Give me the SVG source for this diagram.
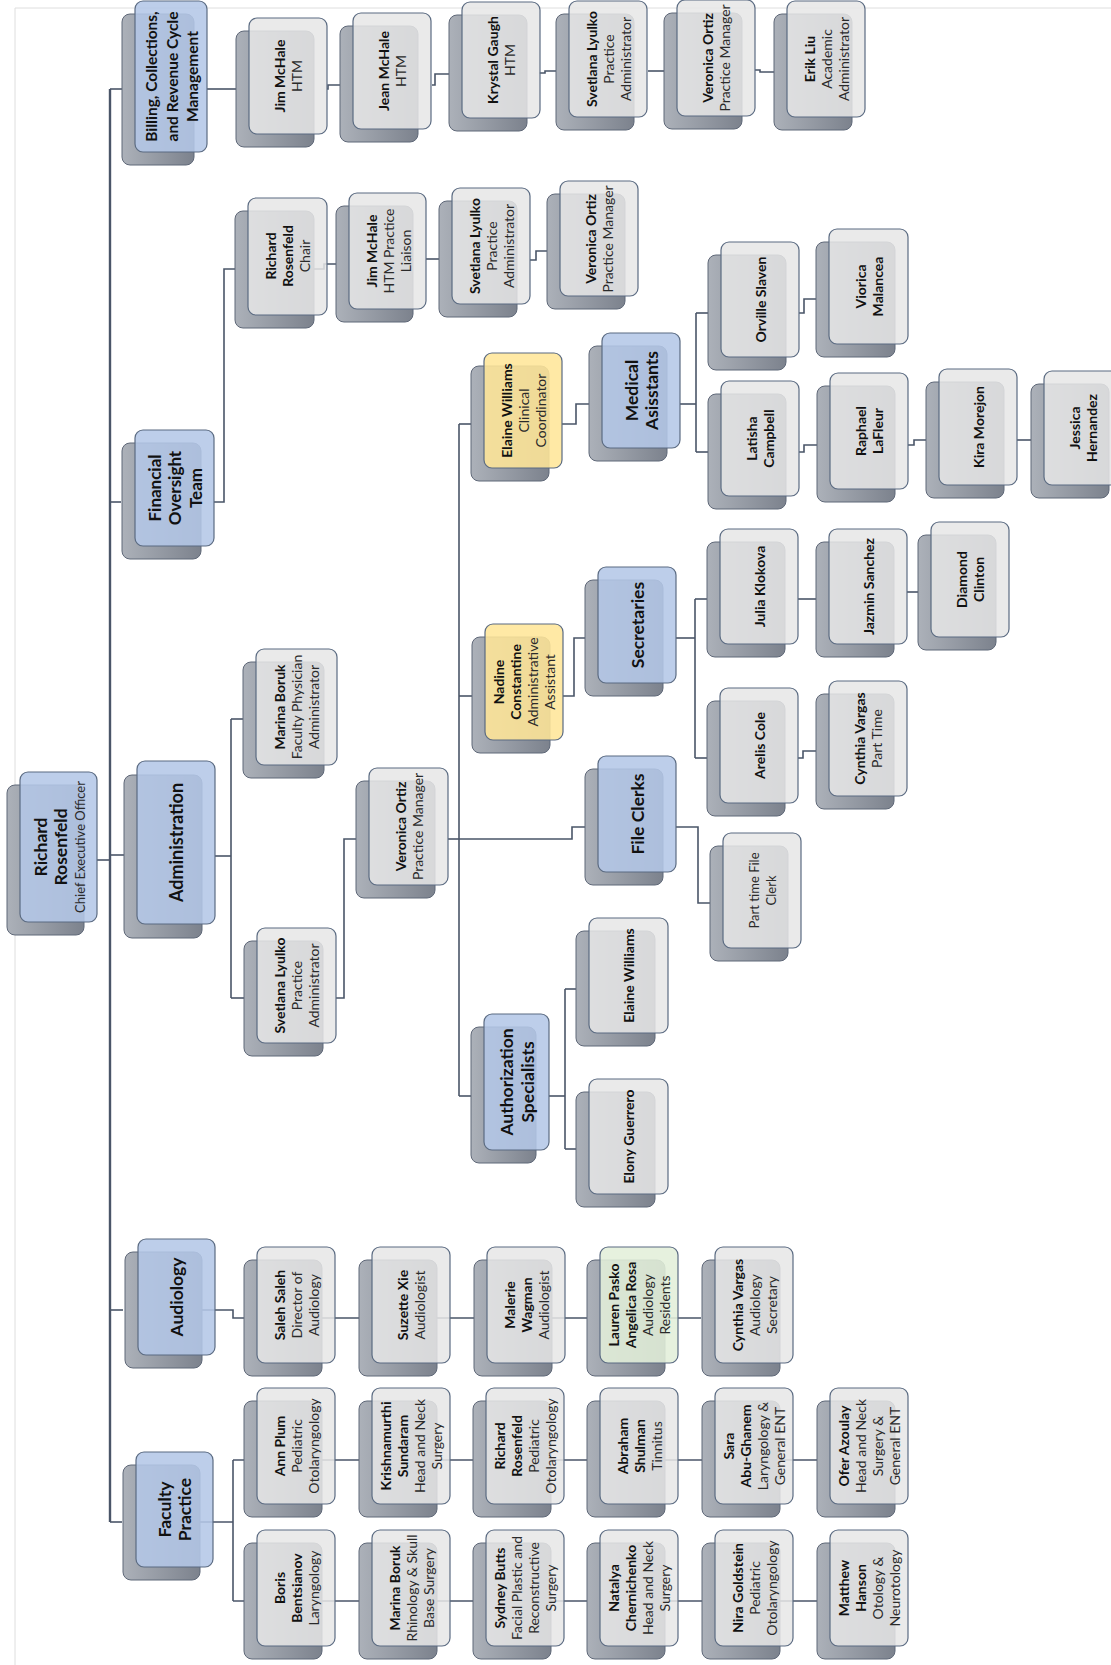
<svg xmlns="http://www.w3.org/2000/svg" width="1111" height="1665" viewBox="0 0 1111 1665">
<defs>
<linearGradient id="gs" x1="0" y1="0" x2="1" y2="0"><stop offset="0" stop-color="#acb1b9"/><stop offset="1" stop-color="#7c828d"/></linearGradient>
<style>
.sh{fill:url(#gs);stroke:#5f6878;stroke-width:1}
.fr{fill:#e6e6e6;fill-opacity:.86;stroke:#5b6b82;stroke-width:1.2}
.fb{fill:#b4c7e7;fill-opacity:.88;stroke:#5b6b82;stroke-width:1.2}
.fy{fill:#ffe699;fill-opacity:.88;stroke:#5b6b82;stroke-width:1.2}
.fg{fill:#e2efd9;fill-opacity:.88;stroke:#5b6b82;stroke-width:1.2}
text{font-family:Lato,"Open Sans","Liberation Sans",sans-serif;font-size:14px;fill:#2a2a2a;text-anchor:middle;dominant-baseline:central}
.b{font-weight:700;fill:#111}
.h{font-size:17.5px;font-weight:700;fill:#111}
.con path{fill:none;stroke:#4a5568;stroke-width:1.6}
.frame{fill:none;stroke:#dedede;stroke-width:1}
</style>
</defs>
<rect width="1111" height="1665" fill="#ffffff"/>
<path class="frame" d="M15,1665 V8 H1111"/>
<g class="con" id="connectors">
<path d="M110,89 V1522" style="stroke-width:2.4"/>
<path d="M110,89 H123"/>
<path d="M110,502 H121"/>
<path d="M97,860 H110"/>
<path d="M110,855 H124"/>
<path d="M110,1310 H123"/>
<path d="M110,1522 H122"/>
<path d="M207,89 H236"/>
<path d="M327,89 H328 V85 H340"/>
<path d="M432,85 H435 V74 H449"/>
<path d="M539,73 H545 V71 H556"/>
<path d="M648,71 H664"/>
<path d="M755,70 H760 V72 H774"/>
<path d="M214,502 H224 V269 H235"/>
<path d="M314,269 H324 V264 H336"/>
<path d="M426,259 H439"/>
<path d="M530,260 H536 V251 H547"/>
<path d="M215,856 H231"/>
<path d="M231,719 V998"/>
<path d="M231,719 H243"/>
<path d="M231,998 H244"/>
<path d="M336,998 H344 V839 H356"/>
<path d="M448,839 H459"/>
<path d="M459,424 V1096"/>
<path d="M459,424 H471"/>
<path d="M459,696 H472"/>
<path d="M459,839 H572 V827 H585"/>
<path d="M459,1096 H471"/>
<path d="M562,424 H576 V404 H589"/>
<path d="M680,404 H696"/>
<path d="M696,313 V452"/>
<path d="M696,313 H708"/>
<path d="M696,452 H708"/>
<path d="M799,313 H804 V299 H816"/>
<path d="M799,452 H804 V445 H817"/>
<path d="M908,445 H914 V440 H926"/>
<path d="M1017,440 H1031"/>
<path d="M563,696 H574 V638 H585"/>
<path d="M676,638 H695"/>
<path d="M695,599 V758"/>
<path d="M695,599 H707"/>
<path d="M695,758 H707"/>
<path d="M798,599 H816"/>
<path d="M907,592 H918"/>
<path d="M798,758 H803 V751 H816"/>
<path d="M676,827 H698 V903 H710"/>
<path d="M549,1096 H565"/>
<path d="M565,989 V1149"/>
<path d="M565,989 H576"/>
<path d="M565,1149 H576"/>
<path d="M200,1310 H233 V1318 H701"/>
<path d="M200,1522 H233"/>
<path d="M233,1460 V1601"/>
<path d="M233,1460 H817"/>
<path d="M233,1601 H817"/>
</g>

<g id="root"><rect class="sh" x="7" y="785" width="77" height="150" rx="8"/><rect class="fb" x="20" y="772" width="77" height="150" rx="8"/>
<text class="h" transform="translate(40,847) rotate(-90)">Richard</text>
<text class="h" transform="translate(60,847) rotate(-90)">Rosenfeld</text>
<text transform="translate(80,847) rotate(-90)" style="font-size:13px">Chief Executive Officer</text></g>

<g id="billing"><rect class="sh" x="122" y="14" width="72" height="151" rx="8"/><rect class="fb" x="135" y="1" width="72" height="151" rx="8"/>
<text class="h" style="font-size:15.5px" transform="translate(151,76.5) rotate(-90)">Billing, Collections,</text>
<text class="h" style="font-size:15.5px" transform="translate(171.5,76.5) rotate(-90)">and Revenue Cycle</text>
<text class="h" style="font-size:15.5px" transform="translate(192,76.5) rotate(-90)">Management</text></g>

<g id="financial"><rect class="sh" x="122" y="443" width="79" height="116" rx="8"/><rect class="fb" x="135" y="430" width="79" height="116" rx="8"/>
<text class="h" style="font-size:17px" transform="translate(154,488) rotate(-90)">Financial</text>
<text class="h" style="font-size:17px" transform="translate(174.5,488) rotate(-90)">Oversight</text>
<text class="h" style="font-size:17px" transform="translate(195,488) rotate(-90)">Team</text></g>

<g id="administration"><rect class="sh" x="124" y="775" width="78" height="163" rx="8"/><rect class="fb" x="137" y="761" width="78" height="163" rx="8"/>
<text class="h" style="font-size:18px" transform="translate(176,842.5) rotate(-90)">Administration</text></g>

<g id="audiology"><rect class="sh" x="125" y="1252" width="77" height="116" rx="8"/><rect class="fb" x="138" y="1239" width="77" height="116" rx="8"/>
<text class="h" transform="translate(176.5,1297) rotate(-90)">Audiology</text></g>

<g id="faculty"><rect class="sh" x="123" y="1465" width="77" height="115" rx="8"/><rect class="fb" x="136" y="1452" width="77" height="115" rx="8"/>
<text class="h" transform="translate(164.5,1509.5) rotate(-90)">Faculty</text>
<text class="h" transform="translate(184.5,1509.5) rotate(-90)">Practice</text></g>

<!-- Billing row -->
<g id="b-jim"><rect class="sh" x="236" y="31" width="78" height="116" rx="8"/><rect class="fr" x="249" y="18" width="78" height="116" rx="8"/>
<text class="b" transform="translate(279.5,76) rotate(-90)">Jim McHale</text>
<text transform="translate(296.5,76) rotate(-90)">HTM</text></g>
<g id="b-jean"><rect class="sh" x="340" y="26" width="78" height="116" rx="8"/><rect class="fr" x="353" y="13" width="78" height="116" rx="8"/>
<text class="b" transform="translate(383.5,71) rotate(-90)">Jean McHale</text>
<text transform="translate(400.5,71) rotate(-90)">HTM</text></g>
<g id="b-krystal"><rect class="sh" x="449" y="15" width="78" height="116" rx="8"/><rect class="fr" x="462" y="2" width="78" height="116" rx="8"/>
<text class="b" transform="translate(492.5,60) rotate(-90)">Krystal Gaugh</text>
<text transform="translate(509.5,60) rotate(-90)">HTM</text></g>
<g id="b-svetlana"><rect class="sh" x="556" y="14" width="78" height="116" rx="8"/><rect class="fr" x="569" y="1" width="78" height="116" rx="8"/>
<text class="b" transform="translate(591,59) rotate(-90)">Svetlana Lyulko</text>
<text transform="translate(608,59) rotate(-90)">Practice</text>
<text transform="translate(625,59) rotate(-90)">Administrator</text></g>
<g id="b-veronica"><rect class="sh" x="664" y="13" width="78" height="116" rx="8"/><rect class="fr" x="677" y="0" width="78" height="116" rx="8"/>
<text class="b" transform="translate(707.5,58) rotate(-90)">Veronica Ortiz</text>
<text transform="translate(724.5,58) rotate(-90)">Practice Manager</text></g>
<g id="b-erik"><rect class="sh" x="774" y="14" width="78" height="116" rx="8"/><rect class="fr" x="787" y="1" width="78" height="116" rx="8"/>
<text class="b" transform="translate(809,59) rotate(-90)">Erik Liu</text>
<text transform="translate(826,59) rotate(-90)">Academic</text>
<text transform="translate(843,59) rotate(-90)">Administrator</text></g>

<!-- Financial oversight row -->
<g id="f-richard"><rect class="sh" x="235" y="211" width="79" height="117" rx="8"/><rect class="fr" x="248" y="198" width="79" height="117" rx="8"/>
<text class="b" transform="translate(270,256) rotate(-90)">Richard</text>
<text class="b" transform="translate(287,256) rotate(-90)">Rosenfeld</text>
<text transform="translate(304,256) rotate(-90)">Chair</text></g>
<g id="f-jim"><rect class="sh" x="336" y="206" width="77" height="116" rx="8"/><rect class="fr" x="349" y="193" width="77" height="116" rx="8"/>
<text class="b" transform="translate(371,251) rotate(-90)">Jim McHale</text>
<text transform="translate(388,251) rotate(-90)">HTM Practice</text>
<text transform="translate(405,251) rotate(-90)">Liaison</text></g>
<g id="f-svetlana"><rect class="sh" x="439" y="201" width="78" height="116" rx="8"/><rect class="fr" x="452" y="188" width="78" height="116" rx="8"/>
<text class="b" transform="translate(474,246) rotate(-90)">Svetlana Lyulko</text>
<text transform="translate(491,246) rotate(-90)">Practice</text>
<text transform="translate(508,246) rotate(-90)">Administrator</text></g>
<g id="f-veronica"><rect class="sh" x="547" y="194" width="78" height="115" rx="8"/><rect class="fr" x="560" y="181" width="78" height="115" rx="8"/>
<text class="b" transform="translate(590.5,239) rotate(-90)">Veronica Ortiz</text>
<text transform="translate(607.5,239) rotate(-90)">Practice Manager</text></g>

<!-- Administration branch -->
<g id="a-marina"><rect class="sh" x="243" y="662" width="81" height="116" rx="8"/><rect class="fr" x="256" y="649" width="81" height="116" rx="8"/>
<text class="b" transform="translate(279.5,707) rotate(-90)">Marina Boruk</text>
<text transform="translate(296.5,707) rotate(-90)">Faculty Physician</text>
<text transform="translate(313.5,707) rotate(-90)">Administrator</text></g>
<g id="a-svetlana"><rect class="sh" x="244" y="941" width="79" height="115" rx="8"/><rect class="fr" x="257" y="928" width="79" height="115" rx="8"/>
<text class="b" transform="translate(279.5,985.5) rotate(-90)">Svetlana Lyulko</text>
<text transform="translate(296.5,985.5) rotate(-90)">Practice</text>
<text transform="translate(313.5,985.5) rotate(-90)">Administrator</text></g>
<g id="a-veronica"><rect class="sh" x="356" y="781" width="79" height="117" rx="8"/><rect class="fr" x="369" y="768" width="79" height="117" rx="8"/>
<text class="b" transform="translate(400,826.5) rotate(-90)">Veronica Ortiz</text>
<text transform="translate(417,826.5) rotate(-90)">Practice Manager</text></g>
<g id="a-elaine-coord"><rect class="sh" x="471" y="366" width="78" height="115" rx="8"/><rect class="fy" x="484" y="353" width="78" height="115" rx="8"/>
<text class="b" transform="translate(506,410.5) rotate(-90)">Elaine Williams</text>
<text transform="translate(523,410.5) rotate(-90)">Clinical</text>
<text transform="translate(540,410.5) rotate(-90)">Coordinator</text></g>
<g id="a-medical"><rect class="sh" x="589" y="346" width="78" height="115" rx="8"/><rect class="fb" x="602" y="333" width="78" height="115" rx="8"/>
<text class="h" transform="translate(631,390.5) rotate(-90)">Medical</text>
<text class="h" transform="translate(651,390.5) rotate(-90)">Asisstants</text></g>
<g id="a-orville"><rect class="sh" x="708" y="255" width="78" height="115" rx="8"/><rect class="fr" x="721" y="242" width="78" height="115" rx="8"/>
<text class="b" transform="translate(760,299.5) rotate(-90)">Orville Slaven</text></g>
<g id="a-viorica"><rect class="sh" x="816" y="242" width="79" height="115" rx="8"/><rect class="fr" x="829" y="229" width="79" height="115" rx="8"/>
<text class="b" transform="translate(860,286.5) rotate(-90)">Viorica</text>
<text class="b" transform="translate(877,286.5) rotate(-90)">Malancea</text></g>
<g id="a-latisha"><rect class="sh" x="708" y="394" width="78" height="115" rx="8"/><rect class="fr" x="721" y="381" width="78" height="115" rx="8"/>
<text class="b" transform="translate(751.5,438.5) rotate(-90)">Latisha</text>
<text class="b" transform="translate(768.5,438.5) rotate(-90)">Campbell</text></g>
<g id="a-raphael"><rect class="sh" x="817" y="386" width="78" height="116" rx="8"/><rect class="fr" x="830" y="373" width="78" height="116" rx="8"/>
<text class="b" transform="translate(860.5,431) rotate(-90)">Raphael</text>
<text class="b" transform="translate(877.5,431) rotate(-90)">LaFleur</text></g>
<g id="a-kira"><rect class="sh" x="926" y="382" width="78" height="116" rx="8"/><rect class="fr" x="939" y="369" width="78" height="116" rx="8"/>
<text class="b" transform="translate(978,427) rotate(-90)">Kira Morejon</text></g>
<g id="a-jessica"><rect class="sh" x="1031" y="384" width="78" height="114" rx="8"/><rect class="fr" x="1044" y="371" width="78" height="114" rx="8"/>
<text class="b" transform="translate(1074.5,428) rotate(-90)">Jessica</text>
<text class="b" transform="translate(1091.5,428) rotate(-90)">Hernandez</text></g>
<g id="a-nadine"><rect class="sh" x="472" y="637" width="78" height="116" rx="8"/><rect class="fy" x="485" y="624" width="78" height="116" rx="8"/>
<text class="b" transform="translate(498.5,682) rotate(-90)">Nadine</text>
<text class="b" transform="translate(515.5,682) rotate(-90)">Constantine</text>
<text transform="translate(532.5,682) rotate(-90)">Administrative</text>
<text transform="translate(549.5,682) rotate(-90)">Assistant</text></g>
<g id="a-secretaries"><rect class="sh" x="585" y="580" width="78" height="116" rx="8"/><rect class="fb" x="598" y="567" width="78" height="116" rx="8"/>
<text class="h" transform="translate(637,625) rotate(-90)">Secretaries</text></g>
<g id="a-julia"><rect class="sh" x="707" y="542" width="78" height="115" rx="8"/><rect class="fr" x="720" y="529" width="78" height="115" rx="8"/>
<text class="b" transform="translate(759,586.5) rotate(-90)">Julia Klokova</text></g>
<g id="a-jazmin"><rect class="sh" x="816" y="542" width="78" height="115" rx="8"/><rect class="fr" x="829" y="529" width="78" height="115" rx="8"/>
<text class="b" transform="translate(868,586.5) rotate(-90)">Jazmin Sanchez</text></g>
<g id="a-diamond"><rect class="sh" x="918" y="535" width="78" height="115" rx="8"/><rect class="fr" x="931" y="522" width="78" height="115" rx="8"/>
<text class="b" transform="translate(961.5,579.5) rotate(-90)">Diamond</text>
<text class="b" transform="translate(978.5,579.5) rotate(-90)">Clinton</text></g>
<g id="a-arelis"><rect class="sh" x="707" y="701" width="78" height="115" rx="8"/><rect class="fr" x="720" y="688" width="78" height="115" rx="8"/>
<text class="b" transform="translate(759,745.5) rotate(-90)">Arelis Cole</text></g>
<g id="a-cynthia-pt"><rect class="sh" x="816" y="694" width="78" height="115" rx="8"/><rect class="fr" x="829" y="681" width="78" height="115" rx="8"/>
<text class="b" transform="translate(859.5,738.5) rotate(-90)">Cynthia Vargas</text>
<text transform="translate(876.5,738.5) rotate(-90)">Part Time</text></g>
<g id="a-fileclerks"><rect class="sh" x="585" y="769" width="78" height="116" rx="8"/><rect class="fb" x="598" y="756" width="78" height="116" rx="8"/>
<text class="h" transform="translate(637,814) rotate(-90)">File Clerks</text></g>
<g id="a-parttime"><rect class="sh" x="710" y="846" width="78" height="115" rx="8"/><rect class="fr" x="723" y="833" width="78" height="115" rx="8"/>
<text style="font-size:13px" transform="translate(753.5,890.5) rotate(-90)">Part time File</text>
<text style="font-size:13px" transform="translate(770.5,890.5) rotate(-90)">Clerk</text></g>
<g id="a-auth"><rect class="sh" x="471" y="1027" width="65" height="136" rx="8"/><rect class="fb" x="484" y="1014" width="65" height="136" rx="8"/>
<text class="h" transform="translate(506,1082) rotate(-90)">Authorization</text>
<text class="h" transform="translate(527,1082) rotate(-90)">Specialists</text></g>
<g id="a-elaine-auth"><rect class="sh" x="576" y="931" width="79" height="115" rx="8"/><rect class="fr" x="589" y="918" width="79" height="115" rx="8"/>
<text class="b" transform="translate(628.5,975.5) rotate(-90)">Elaine Williams</text></g>
<g id="a-elony"><rect class="sh" x="576" y="1092" width="79" height="115" rx="8"/><rect class="fr" x="589" y="1079" width="79" height="115" rx="8"/>
<text class="b" transform="translate(628.5,1136.5) rotate(-90)">Elony Guerrero</text></g>

<!-- Audiology row -->
<g id="au-saleh"><rect class="sh" x="244" y="1260" width="78" height="116" rx="8"/><rect class="fr" x="257" y="1247" width="78" height="116" rx="8"/>
<text class="b" transform="translate(279,1305) rotate(-90)">Saleh Saleh</text>
<text transform="translate(296,1305) rotate(-90)">Director of</text>
<text transform="translate(313,1305) rotate(-90)">Audiology</text></g>
<g id="au-suzette"><rect class="sh" x="359" y="1260" width="78" height="116" rx="8"/><rect class="fr" x="372" y="1247" width="78" height="116" rx="8"/>
<text class="b" transform="translate(402.5,1305) rotate(-90)">Suzette Xie</text>
<text transform="translate(419.5,1305) rotate(-90)">Audiologist</text></g>
<g id="au-malerie"><rect class="sh" x="474" y="1260" width="78" height="116" rx="8"/><rect class="fr" x="487" y="1247" width="78" height="116" rx="8"/>
<text class="b" transform="translate(509,1305) rotate(-90)">Malerie</text>
<text class="b" transform="translate(526,1305) rotate(-90)">Wagman</text>
<text transform="translate(543,1305) rotate(-90)">Audiologist</text></g>
<g id="au-lauren"><rect class="sh" x="587" y="1260" width="78" height="116" rx="8"/><rect class="fg" x="600" y="1247" width="78" height="116" rx="8"/>
<text class="b" transform="translate(613.5,1305) rotate(-90)">Lauren Pasko</text>
<text class="b" transform="translate(630.5,1305) rotate(-90)">Angelica Rosa</text>
<text transform="translate(647.5,1305) rotate(-90)">Audiology</text>
<text transform="translate(664.5,1305) rotate(-90)">Residents</text></g>
<g id="au-cynthia"><rect class="sh" x="702" y="1260" width="78" height="116" rx="8"/><rect class="fr" x="715" y="1247" width="78" height="116" rx="8"/>
<text class="b" transform="translate(737,1305) rotate(-90)">Cynthia Vargas</text>
<text transform="translate(754,1305) rotate(-90)">Audiology</text>
<text transform="translate(771,1305) rotate(-90)">Secretary</text></g>

<!-- Faculty top row -->
<g id="fp-ann"><rect class="sh" x="244" y="1401" width="78" height="116" rx="8"/><rect class="fr" x="257" y="1388" width="78" height="116" rx="8"/>
<text class="b" transform="translate(279,1446) rotate(-90)">Ann Plum</text>
<text transform="translate(296,1446) rotate(-90)">Pediatric</text>
<text transform="translate(313,1446) rotate(-90)">Otolaryngology</text></g>
<g id="fp-krish"><rect class="sh" x="359" y="1401" width="78" height="116" rx="8"/><rect class="fr" x="372" y="1388" width="78" height="116" rx="8"/>
<text class="b" transform="translate(385.5,1446) rotate(-90)">Krishnamurthi</text>
<text class="b" transform="translate(402.5,1446) rotate(-90)">Sundaram</text>
<text transform="translate(419.5,1446) rotate(-90)">Head and Neck</text>
<text transform="translate(436.5,1446) rotate(-90)">Surgery</text></g>
<g id="fp-richard"><rect class="sh" x="473" y="1401" width="78" height="116" rx="8"/><rect class="fr" x="486" y="1388" width="78" height="116" rx="8"/>
<text class="b" transform="translate(499.5,1446) rotate(-90)">Richard</text>
<text class="b" transform="translate(516.5,1446) rotate(-90)">Rosenfeld</text>
<text transform="translate(533.5,1446) rotate(-90)">Pediatric</text>
<text transform="translate(550.5,1446) rotate(-90)">Otolaryngology</text></g>
<g id="fp-abraham"><rect class="sh" x="587" y="1401" width="78" height="116" rx="8"/><rect class="fr" x="600" y="1388" width="78" height="116" rx="8"/>
<text class="b" transform="translate(622,1446) rotate(-90)">Abraham</text>
<text class="b" transform="translate(639,1446) rotate(-90)">Shulman</text>
<text transform="translate(656,1446) rotate(-90)">Tinnitus</text></g>
<g id="fp-sara"><rect class="sh" x="702" y="1401" width="78" height="116" rx="8"/><rect class="fr" x="715" y="1388" width="78" height="116" rx="8"/>
<text class="b" transform="translate(728.5,1446) rotate(-90)">Sara</text>
<text class="b" transform="translate(745.5,1446) rotate(-90)">Abu-Ghanem</text>
<text transform="translate(762.5,1446) rotate(-90)">Laryngology &amp;</text>
<text transform="translate(779.5,1446) rotate(-90)">General ENT</text></g>
<g id="fp-ofer"><rect class="sh" x="817" y="1401" width="78" height="116" rx="8"/><rect class="fr" x="830" y="1388" width="78" height="116" rx="8"/>
<text class="b" transform="translate(843.5,1446) rotate(-90)">Ofer Azoulay</text>
<text transform="translate(860.5,1446) rotate(-90)">Head and Neck</text>
<text transform="translate(877.5,1446) rotate(-90)">Surgery &amp;</text>
<text transform="translate(894.5,1446) rotate(-90)">General ENT</text></g>

<!-- Faculty bottom row -->
<g id="fp-boris"><rect class="sh" x="244" y="1543" width="78" height="116" rx="8"/><rect class="fr" x="257" y="1530" width="78" height="116" rx="8"/>
<text class="b" transform="translate(279,1588) rotate(-90)">Boris</text>
<text class="b" transform="translate(296,1588) rotate(-90)">Bentsianov</text>
<text transform="translate(313,1588) rotate(-90)">Laryngology</text></g>
<g id="fp-marina"><rect class="sh" x="359" y="1543" width="78" height="116" rx="8"/><rect class="fr" x="372" y="1530" width="78" height="116" rx="8"/>
<text class="b" transform="translate(394,1588) rotate(-90)">Marina Boruk</text>
<text transform="translate(411,1588) rotate(-90)">Rhinology &amp; Skull</text>
<text transform="translate(428,1588) rotate(-90)">Base Surgery</text></g>
<g id="fp-sydney"><rect class="sh" x="473" y="1543" width="78" height="116" rx="8"/><rect class="fr" x="486" y="1530" width="78" height="116" rx="8"/>
<text class="b" transform="translate(499.5,1588) rotate(-90)">Sydney Butts</text>
<text transform="translate(516.5,1588) rotate(-90)">Facial Plastic and</text>
<text transform="translate(533.5,1588) rotate(-90)">Reconstructive</text>
<text transform="translate(550.5,1588) rotate(-90)">Surgery</text></g>
<g id="fp-natalya"><rect class="sh" x="587" y="1543" width="78" height="116" rx="8"/><rect class="fr" x="600" y="1530" width="78" height="116" rx="8"/>
<text class="b" transform="translate(613.5,1588) rotate(-90)">Natalya</text>
<text class="b" transform="translate(630.5,1588) rotate(-90)">Chernichenko</text>
<text transform="translate(647.5,1588) rotate(-90)">Head and Neck</text>
<text transform="translate(664.5,1588) rotate(-90)">Surgery</text></g>
<g id="fp-nira"><rect class="sh" x="702" y="1543" width="78" height="116" rx="8"/><rect class="fr" x="715" y="1530" width="78" height="116" rx="8"/>
<text class="b" transform="translate(737,1588) rotate(-90)">Nira Goldstein</text>
<text transform="translate(754,1588) rotate(-90)">Pediatric</text>
<text transform="translate(771,1588) rotate(-90)">Otolaryngology</text></g>
<g id="fp-matthew"><rect class="sh" x="817" y="1543" width="78" height="116" rx="8"/><rect class="fr" x="830" y="1530" width="78" height="116" rx="8"/>
<text class="b" transform="translate(843.5,1588) rotate(-90)">Matthew</text>
<text class="b" transform="translate(860.5,1588) rotate(-90)">Hanson</text>
<text transform="translate(877.5,1588) rotate(-90)">Otology &amp;</text>
<text transform="translate(894.5,1588) rotate(-90)">Neurotology</text></g>
</svg>
